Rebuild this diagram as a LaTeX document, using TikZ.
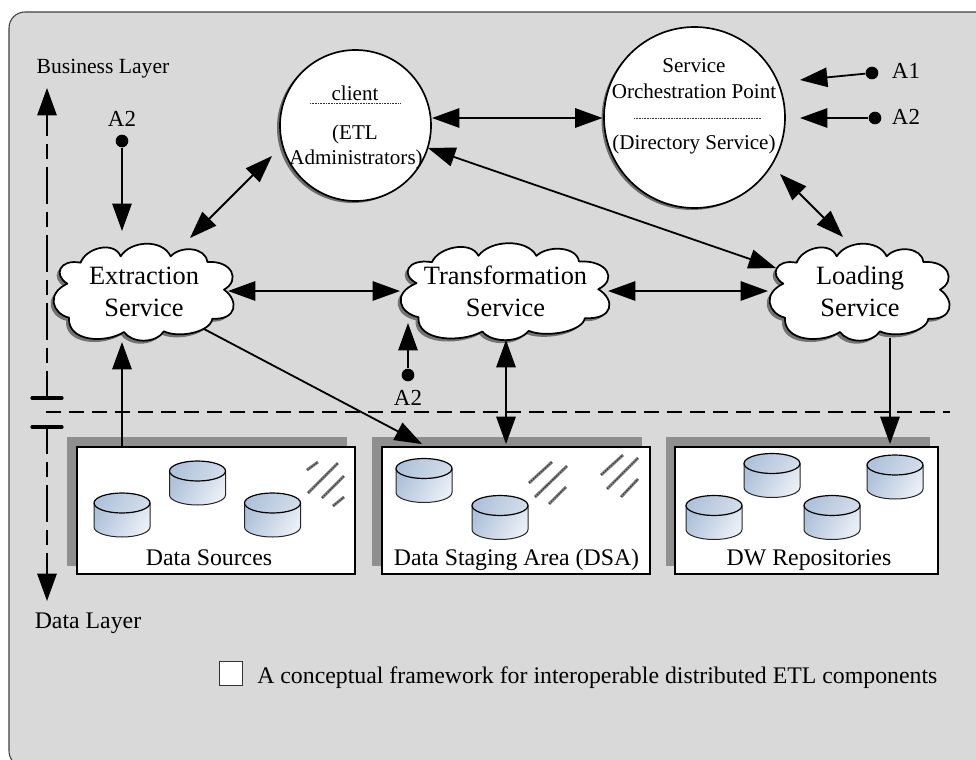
\documentclass[tikz,border=0pt]{standalone}
\usepackage{fontspec}
\setmainfont{Liberation Serif}
\usetikzlibrary{arrows.meta,calc}
\definecolor{panel}{HTML}{D9D9D9}
\definecolor{shadowgray}{HTML}{8F8F8F}
\definecolor{cylA}{HTML}{AFC2DB}
\definecolor{cylB}{HTML}{EAEFF6}
\definecolor{cylC}{HTML}{D2DCEA}
\definecolor{hatch}{HTML}{404040}
\tikzset{
  x=.75pt,y=-.75pt,
  conn/.style={line width=1.35pt,line join=miter},
  arr/.style={conn,-{Triangle[length=20.5pt,width=14.5pt]}},
  dbl/.style={conn,{Triangle[length=20.5pt,width=14.5pt]}-{Triangle[length=20.5pt,width=14.5pt]}},
  txt/.style={font=\fontsize{17.85}{20}\selectfont,inner sep=0pt,anchor=base},
  atxt/.style={font=\fontsize{17.2}{20}\selectfont,inner sep=0pt,anchor=base},
  ctxt/.style={font=\fontsize{15.8}{20}\selectfont,inner sep=0pt,anchor=base},
  cloudtxt/.style={font=\fontsize{19.8}{24}\selectfont,align=center,inner sep=0pt,minimum height=73.5pt},
  ball/.style={circle,fill=black,inner sep=0pt,minimum size=9.5pt},
  orb/.style={circle,draw=black,fill=white,line width=1.25pt,inner sep=0pt},
  storebox/.style={rectangle,draw=black,fill=white,line width=1.4pt,inner sep=0pt,minimum height=95.25pt},
  axisline/.style={line width=1.5pt,dash pattern=on 27.75pt off 6pt on 11.25pt off 6pt,dash phase=7.5pt},
  axisbar/.style={line width=2.4pt,line cap=round},
  sep/.style={line width=1.3pt,dash pattern=on 11.25pt off 6pt},
  rule/.style={line width=.65pt,black!80,dash pattern=on .7pt off .5pt},
  stripebg/.style={draw=black!45,line width=2.3pt},
  stripefg/.style={draw=hatch,line width=1pt,dash pattern=on 1.3pt off .7pt},
}
\newcommand{\hstripe}[4]{%
  \draw[stripebg] (#1,#2) -- (#3,#4);
  \draw[stripefg] (#1,#2) -- (#3,#4);}
\newcommand{\cloudshape}[3]{%
  \fill[shadowgray!80!black,shift={(#1-3,#2+3)},xscale=#3/3,yscale=1/3] \cloudpath;
  \draw[fill=white,line width=1.3pt,line join=round,shift={(#1,#2)},xscale=#3/3,yscale=1/3] \cloudpath;}
\newcommand{\cloudpath}{
  (-190,-88) .. controls (-175,-132) and (-90,-155) .. (-70,-107)
  .. controls (-40,-155) and (55,-160) .. (80,-107)
  .. controls (110,-140) and (185,-135) .. (190,-90)
  .. controls (265,-95) and (290,-35) .. (240,-7)
  .. controls (285,25) and (280,85) .. (205,80)
  .. controls (200,120) and (105,140) .. (60,118)
  .. controls (35,155) and (-35,155) .. (-60,120)
  .. controls (-115,155) and (-230,150) .. (-225,77)
  .. controls (-275,65) and (-295,5) .. (-230,-25)
  .. controls (-272,-50) and (-255,-100) .. (-190,-88) -- cycle}
\newcommand{\cyl}[2]{%
  \shade[left color=cylA,right color=cylB,shading angle=60]
    (#1-28,#2+10) -- (#1-28,#2+34) arc[start angle=180,end angle=0,x radius=28,y radius=10] -- (#1+28,#2+10) -- cycle;
  \draw[line width=.75pt,black!85] (#1-28,#2+10) -- (#1-28,#2+34) arc[start angle=180,end angle=0,x radius=28,y radius=10] -- (#1+28,#2+10);
  \shade[left color=cylA,right color=cylC,shading angle=60] (#1,#2+10) ellipse[x radius=28,y radius=10];
  \draw[line width=.9pt] (#1,#2+10) ellipse[x radius=28,y radius=10];}
\begin{document}
\begin{tikzpicture}
\clip (0,0) rectangle (976,760);
\useasboundingbox (0,0) rectangle (976,760);
% panel
\draw[fill=panel,draw=black!75,line width=.8pt,rounded corners=12pt] (9,12) rectangle (1000,767);

% box shadows
\fill[shadowgray] (67,437) rectangle (347,566);
\fill[shadowgray] (372,437) rectangle (642,566);
\fill[shadowgray] (666,437) rectangle (930,566);

% separator and axis
\coordinate (sepL) at (46,412);
\coordinate (sepR) at (950,412);
\draw[sep] (sepL) -- (sepR);
\coordinate (axUp) at (47,398);
\coordinate (axUpTip) at (47,88);
\coordinate (axDn) at (47,427);
\coordinate (axDnTip) at (47,601);
\coordinate (barAL) at (32,398);
\coordinate (barAR) at (62,398);
\coordinate (barBL) at (32,427);
\coordinate (barBR) at (62,427);
\draw[axisline] (axUp) -- ($(axUpTip)+(0,20)$);
\draw[axisline] (axDn) -- ($(axDnTip)+(0,-20)$);
\draw[conn,-{Triangle[length=20.5pt,width=14.5pt]}] ($(axUpTip)+(0,30)$) -- (axUpTip);
\draw[conn,-{Triangle[length=20.5pt,width=14.5pt]}] ($(axDnTip)+(0,-30)$) -- (axDnTip);
\draw[axisbar] (barAL) -- (barAR);
\draw[axisbar] (barBL) -- (barBR);

% storage boxes
\node[storebox,minimum width=208.5pt] (ds) at (216,510.5) {};
\node[storebox,minimum width=201pt] (dsa) at (516,510.5) {};
\node[storebox,minimum width=197.25pt] (dw) at (806.5,510.5) {};
\node[txt] (dsT) at (209,565) {Data Sources};
\node[txt] (dsaT) at (516.5,565) {Data Staging Area (DSA)};
\node[txt] (dwT) at (809,565) {DW Repositories};

% cylinders
\cyl{122}{493}\cyl{197.5}{461}\cyl{272.5}{493}
\cyl{424}{458.5}\cyl{500}{495.5}
\cyl{714}{495.5}\cyl{772}{453.5}\cyl{832}{495.5}\cyl{895}{455}

% hatching
\hstripe{307}{470}{318}{462}
\hstripe{308}{493}{338}{463}
\hstripe{322}{498}{344}{476}
\hstripe{333}{506}{344}{497}
\hstripe{529}{483}{552}{462}
\hstripe{535}{497}{567}{466}
\hstripe{549}{504}{566}{487}
\hstripe{601}{475}{623}{455}
\hstripe{607}{489}{638}{458}
\hstripe{621}{497}{638}{479}

% clouds
\cloudshape{144}{292}{1}
\cloudshape{505.5}{291.5}{1.16}
\cloudshape{860}{292}{1}
\node[cloudtxt,minimum width=136.5pt] (ext) at (144,291.5) {Extraction\\Service};
\node[cloudtxt,minimum width=158pt] (trf) at (505.5,291.5) {Transformation\\Service};
\node[cloudtxt,minimum width=136.5pt] (load) at (860,291) {Loading\\Service};

% circles
\fill[shadowgray!75!black] (352.5,127.5) circle[radius=75.5];
\node[orb,minimum size=113.25pt] (cli) at (355.5,125.5) {};
\fill[shadowgray!75!black] (692,119.5) circle[radius=90.5];
\node[orb,minimum size=135.75pt] (sop) at (694.5,117.5) {};
\node[ctxt] (cliA) at (355,100) {client};
\coordinate (cliRL) at (310,103);
\coordinate (cliRR) at (401,103);
\draw[rule] (cliRL) -- (cliRR);
\node[ctxt] (cliB) at (355,139) {(ETL};
\node[ctxt] (cliC) at (356,164) {Administrators)};
\node[ctxt] (sopA) at (694,72) {Service};
\node[ctxt] (sopB) at (694,98) {Orchestration Point};
\coordinate (sopRL) at (634,118);
\coordinate (sopRR) at (761,118);
\draw[rule] (sopRL) -- (sopRR);
\node[ctxt] (sopC) at (694,149) {(Directory Service)};

% dots
\node[ball] (d1) at (122,141) {};
\node[ball] (d2) at (408,375) {};
\node[ball] (d3) at (872,73) {};
\node[ball] (d4) at (875,118) {};

% connectors
\draw[arr] (d1) -- ($(ext.center)+(-22,-60.5)$);
\draw[dbl] ($(ext.center)+(46,-53.5)$) -- ($(cli.center)+(-83.5,30.5)$);
\draw[dbl] ($(cli.center)+(76.5,-7.5)$) -- ($(sop.center)+(-92,0.5)$);
\draw[dbl] ($(cli.center)+(72.5,22.5)$) -- ($(load.center)+(-84,-23)$);
\draw[dbl] ($(sop.center)+(85.5,56.5)$) -- ($(load.center)+(-17,-54)$);
\draw[arr] (d3) -- ($(sop.center)+(105.5,-37.5)$);
\draw[arr] (d4) -- ($(sop.center)+(105.5,0.5)$);
\draw[dbl] ($(ext.center)+(84,-0.5)$) -- ($(trf.center)+(-105.5,-0.5)$);
\draw[dbl] ($(trf.center)+(102.5,-0.5)$) -- ($(load.center)+(-92,0)$);
\draw[arr] (d2) -- ($(trf.center)+(-97.5,31.5)$);
\draw[arr] ($(ds.north)+(-94,0)$) -- ($(ext.center)+(-22,50.5)$);
\draw[arr] ($(ext.center)+(60,37.5)$) -- ($(dsa.north)+(-94,-2)$);
\draw[dbl] ($(trf.center)+(0.5,48.5)$) -- ($(dsa.north)+(-10,-2)$);
\draw[arr] ($(load.center)+(30,47)$) -- ($(dw.north)+(83.5,-2)$);

% labels
\node[txt,font=\fontsize{16.2}{20}\selectfont] (bl) at (103,73) {Business Layer};
\node[txt] (dl) at (88,628) {Data Layer};
\node[atxt] (a2a) at (122,126) {A2};
\node[atxt] (a2b) at (408,405) {A2};
\node[atxt] (a1c) at (906,78) {A1};
\node[atxt] (a2c) at (906,124) {A2};

% caption
\node[rectangle,draw=black!80,fill=white,line width=.7pt,minimum size=17.6pt,inner sep=0pt] (capbox) at (231,673.5) {};
\node[txt,anchor=base west] (cap) at (257,683) {A conceptual framework for interoperable distributed ETL components};
\end{tikzpicture}
\end{document}
